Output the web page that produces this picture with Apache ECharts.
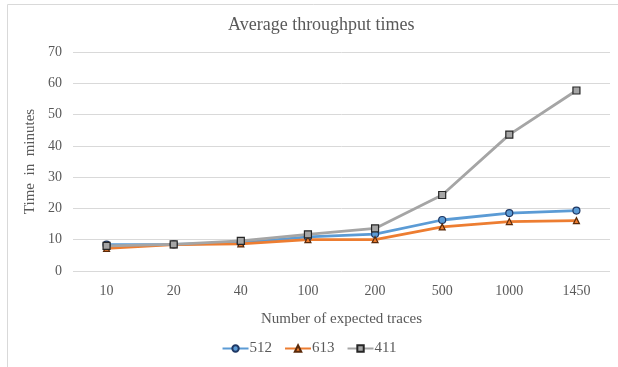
<!DOCTYPE html>
<html>
<head>
<meta charset="utf-8">
<script src="https://cdn.jsdelivr.net/npm/echarts@6/dist/echarts.min.js"></script>
<style>
  html, body { margin: 0; padding: 0; background: #fff; }
  #chart { width: 618px; height: 367px; }
</style>
</head>
<body>
<div id="chart"></div>
<script>
// categories and series values
const traces = ['10', '20', '40', '100', '200', '500', '1000', '1450'];
const s512 = [8.4, 8.5, 9.0, 10.9, 11.8, 16.3, 18.5, 19.3];
const s613 = [7.2, 8.4, 8.7, 10.0, 10.0, 14.1, 15.8, 16.1];
const s411 = [8.0, 8.5, 9.6, 11.7, 13.6, 24.3, 43.6, 57.7];

const serif = '"Liberation Serif", "Times New Roman", serif';
const txt = '#595959';

const chart = echarts.init(document.getElementById('chart'));

function line (name, data, color, symbol, border) {
  return {
    name: name,
    type: 'line',
    data: data,
    symbol: symbol,
    symbolSize: symbol === 'triangle' ? 6 : 7,
    lineStyle: { color: color, width: 2.8 },
    itemStyle: { color: color, borderColor: border, borderWidth: 1.2 },
    emphasis: { disabled: true }
  };
}

chart.setOption({
  animation: false,
  // chart frame
  graphic: [{
    type: 'rect',
    shape: { x: 7.5, y: 4.5, width: 700, height: 500 },
    style: { fill: 'none', stroke: '#d9d9d9', lineWidth: 1 },
    silent: true
  }],
  title: {
    text: 'Average throughput times',
    left: 223,
    top: 11,
    textStyle: { fontFamily: serif, fontSize: 18, fontWeight: 'normal', color: txt }
  },
  legend: {
    bottom: 6,
    left: 'center',
    itemWidth: 26,
    itemHeight: 8,
    itemGap: 12,
    data: ['512', '613', '411'],
    textStyle: { fontFamily: serif, fontSize: 15, color: txt, padding: [0, 0, 0, -4] }
  },
  grid: { left: 73, top: 52, width: 537, height: 219 },
  xAxis: {
    type: 'category',
    data: traces,
    name: 'Number of expected traces',
    nameLocation: 'middle',
    nameGap: 41,
    nameTextStyle: { fontFamily: serif, fontSize: 15, color: txt },
    axisLine: { show: false },
    axisTick: { show: false },
    axisLabel: { fontFamily: serif, fontSize: 14, color: txt, margin: 13 }
  },
  yAxis: {
    type: 'value',
    min: 0,
    max: 70,
    interval: 10,
    name: 'Time  in  minutes',
    nameLocation: 'middle',
    nameGap: 33,
    nameTextStyle: { fontFamily: serif, fontSize: 15, color: txt },
    axisLine: { show: false },
    axisTick: { show: false },
    axisLabel: { fontFamily: serif, fontSize: 14, color: txt, margin: 11 },
    splitLine: { lineStyle: { color: '#d9d9d9', width: 1 } }
  },
  series: [
    line('512', s512, '#5b9bd5', 'circle', '#1f3864'),
    line('613', s613, '#ed7d31', 'triangle', '#5a2a0a'),
    line('411', s411, '#a5a5a5', 'rect', '#262626')
  ]
});
</script>
</body>
</html>
